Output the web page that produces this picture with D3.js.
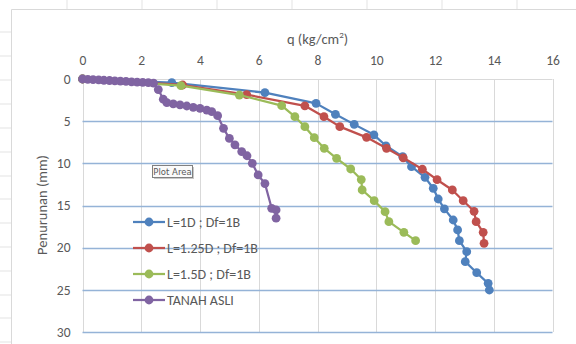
<!DOCTYPE html>
<html>
<head>
<meta charset="utf-8">
<script src="https://cdn.jsdelivr.net/npm/d3@7"></script>
<style>
    body { margin: 0; background: #fff; }
    #vis { width: 576px; height: 344px; overflow: hidden; }
    text { font-family: Carlito, Calibri, "Open Sans", sans-serif; fill: #595959; }
    .tick text { font-size: 13.5px; }
    .title { font-size: 14.5px; }
    .legend text { font-size: 14px; }
</style>
</head>
<body>
<div id="vis"></div>
<script>
/* Load-settlement curves (q vs penurunan) */

// Series names and colours
var seriesNames = ['L=1D ; Df=1B', 'L=1.25D ; Df=1B', 'L=1.5D ; Df=1B', 'TANAH ASLI'];
var seriesColors = ['#4f81bd', '#c0504d', '#9bbb59', '#8064a2'];

// q (kg/cm2) and settlement (mm) for each series
var q1 = [0, 3.04, 6.21, 7.95, 8.61, 9.25, 9.92, 10.33, 10.9, 11.2, 11.66, 11.94, 12.11, 12.32, 12.62, 12.77, 12.83, 13.08, 13.03, 13.42, 13.81, 13.85];
var s1 = [0, 0.44, 1.62, 2.89, 4.19, 5.38, 6.62, 7.92, 9.21, 10.4, 11.66, 12.96, 14.23, 15.4, 16.72, 17.9, 19.17, 20.48, 21.66, 22.97, 24.23, 25.02];

var q2 = [0, 3.41, 5.59, 7.57, 8.22, 8.76, 9.67, 10.35, 10.92, 11.57, 12.07, 12.59, 12.96, 13.33, 13.4, 13.64, 13.67];
var s2 = [0, 0.71, 1.86, 3.18, 4.47, 5.65, 6.92, 8.22, 9.35, 10.7, 11.94, 13.16, 14.43, 15.69, 16.92, 18.18, 19.49];

var q3 = [0, 3.35, 5.34, 6.78, 7.23, 7.57, 7.89, 8.23, 8.65, 9.13, 9.49, 9.52, 9.93, 10.3, 10.43, 10.94, 11.34];
var s3 = [0, 0.79, 1.9, 3.16, 4.47, 5.65, 6.96, 8.22, 9.41, 10.67, 11.92, 13.16, 14.43, 15.73, 16.92, 18.18, 19.17];

var q4 = [0, 0.18, 0.36, 0.55, 0.73, 0.92, 1.1, 1.29, 1.48, 1.67, 1.86, 2.05, 2.24, 2.42, 2.58, 2.75, 2.87, 3.09, 3.32, 3.55, 3.77, 4.0, 4.23, 4.4, 4.6, 4.8, 5.0, 5.19, 5.42, 5.6, 5.78, 5.98, 6.21, 6.44, 6.59, 6.59];
var s4 = [0, 0.04, 0.08, 0.11, 0.15, 0.18, 0.22, 0.26, 0.29, 0.33, 0.36, 0.4, 0.44, 0.48, 1.25, 2.4, 2.8, 2.96, 3.08, 3.2, 3.36, 3.48, 3.68, 3.88, 4.35, 5.85, 7.05, 7.8, 8.6, 9.1, 10.0, 11.38, 12.4, 15.33, 15.53, 16.5];

// Axis ticks
var xTicks = [0, 2, 4, 6, 8, 10, 12, 14, 16];
var yTicks = [0, 5, 10, 15, 20, 25, 30];

var allSeries = [[q1, s1], [q2, s2], [q3, s3], [q4, s4]].map(function(p, i) {
    return {
        name: seriesNames[i],
        color: seriesColors[i],
        values: p[0].map(function(q, j) { return {q: q, s: p[1][j]}; })
    };
});

var width = 576;
var height = 344;

// Plot area bounds
var plot = {left: 82.5, right: 552.5, top: 79, bottom: 332};

var svg = d3.select('#vis')
    .append('svg')
    .attr('width', width)
    .attr('height', height);

// Faint spreadsheet gridlines outside the chart
var cellXs = [67, 142, 217, 292, 367, 442, 517];
var cellYs = [32, 56, 80, 104, 128, 152, 176, 199, 223, 247, 271, 295, 318, 342];
svg.selectAll('.cellx').data(cellXs).enter().append('line')
    .attr('x1', function(d) { return d; }).attr('x2', function(d) { return d; })
    .attr('y1', 0).attr('y2', 9)
    .attr('stroke', '#e3e3e3');
svg.selectAll('.celly').data(cellYs).enter().append('line')
    .attr('x1', 0).attr('x2', 11)
    .attr('y1', function(d) { return d; }).attr('y2', function(d) { return d; })
    .attr('stroke', '#e3e3e3');

// Chart area border
svg.append('path')
    .attr('d', 'M11.5,' + height + 'V9.5H' + width)
    .attr('fill', 'none')
    .attr('stroke', '#d9d9d9');

var xScale = d3.scaleLinear().domain([0, 16]).range([plot.left, plot.right]);
var yScale = d3.scaleLinear().domain([0, 30]).range([plot.top, plot.bottom]);

// Vertical gridlines (grey)
svg.append('g').selectAll('line').data(xTicks).enter().append('line')
    .attr('x1', function(d) { return Math.round(xScale(d)) + 0.5; })
    .attr('x2', function(d) { return Math.round(xScale(d)) + 0.5; })
    .attr('y1', plot.top).attr('y2', plot.bottom)
    .attr('stroke', '#d9d9d9');

// Horizontal gridlines (blue), top edge is the grey axis line
svg.append('g').selectAll('line').data(yTicks).enter().append('line')
    .attr('x1', plot.left).attr('x2', plot.right)
    .attr('y1', function(d) { return Math.round(yScale(d)) + 0.5; })
    .attr('y2', function(d) { return Math.round(yScale(d)) + 0.5; })
    .attr('stroke', function(d) { return d === 0 ? '#d9d9d9' : '#95b3d7'; })
    .attr('stroke-width', function(d) { return d === 0 ? 1 : 1.3; });

// Axes (labels only)
var xAxis = d3.axisTop(xScale).tickValues(xTicks).tickSize(0).tickPadding(14);
var yAxis = d3.axisLeft(yScale).tickValues(yTicks).tickSize(0).tickPadding(12);

svg.append('g')
    .attr('transform', 'translate(0,' + plot.top + ')')
    .call(xAxis)
    .call(function(g) { g.select('.domain').remove(); });

svg.append('g')
    .attr('transform', 'translate(' + plot.left + ',0)')
    .call(yAxis)
    .call(function(g) { g.select('.domain').remove(); });

svg.selectAll('.tick text')
    .attr('fill', '#595959')
    .style('font-family', 'Carlito, Calibri, "Open Sans", sans-serif');

// Axis titles
var xTitle = svg.append('text')
    .attr('class', 'title')
    .attr('x', (plot.left + plot.right) / 2)
    .attr('y', 44)
    .attr('text-anchor', 'middle');
xTitle.append('tspan').text('q (kg/cm');
xTitle.append('tspan').attr('font-size', '9px').attr('dy', -6).text('2');
xTitle.append('tspan').attr('dy', 6).text(')');

svg.append('text')
    .attr('class', 'title')
    .attr('transform', 'translate(47,' + 205 + ') rotate(-90)')
    .attr('text-anchor', 'middle')
    .text('Penurunan (mm)');

// Lines and markers
var line = d3.line()
    .x(function(d) { return xScale(d.q); })
    .y(function(d) { return yScale(d.s); });

var series = svg.selectAll('.series').data(allSeries).enter().append('g')
    .attr('class', 'series');

series.append('path')
    .attr('d', function(d) { return line(d.values); })
    .attr('fill', 'none')
    .attr('stroke', function(d) { return d.color; })
    .attr('stroke-width', 2.25)
    .attr('stroke-linejoin', 'round');

series.each(function(d) {
    d3.select(this).selectAll('circle').data(d.values).enter().append('circle')
        .attr('cx', function(p) { return xScale(p.q); })
        .attr('cy', function(p) { return yScale(p.s); })
        .attr('r', 4.4)
        .attr('fill', d.color);
});

// Legend
var legend = svg.append('g').attr('class', 'legend')
    .selectAll('g').data(allSeries).enter().append('g')
    .attr('transform', function(d, i) { return 'translate(133,' + (222 + i * 26) + ')'; });

legend.append('line')
    .attr('x1', 0).attr('x2', 32)
    .attr('stroke', function(d) { return d.color; })
    .attr('stroke-width', 2.25);
legend.append('circle')
    .attr('cx', 16).attr('r', 4.4)
    .attr('fill', function(d) { return d.color; });
legend.append('text')
    .attr('x', 34)
    .attr('dy', '0.35em')
    .text(function(d) { return d.name; });

// "Plot Area" hover tip
var tip = svg.append('g').attr('transform', 'translate(152,165)');
tip.append('rect')
    .attr('x', 2).attr('y', 2)
    .attr('width', 40).attr('height', 12)
    .attr('fill', '#c8c8c8');
tip.append('rect')
    .attr('x', 0.5).attr('y', 0.5)
    .attr('width', 40).attr('height', 12)
    .attr('fill', '#fafafa')
    .attr('stroke', '#808080');
tip.append('text')
    .attr('x', 20.5).attr('y', 9.5)
    .attr('text-anchor', 'middle')
    .style('font-size', '8.5px')
    .style('font-family', '"DejaVu Sans", sans-serif')
    .attr('fill', '#444')
    .text('Plot Area');
</script>
</body>
</html>
